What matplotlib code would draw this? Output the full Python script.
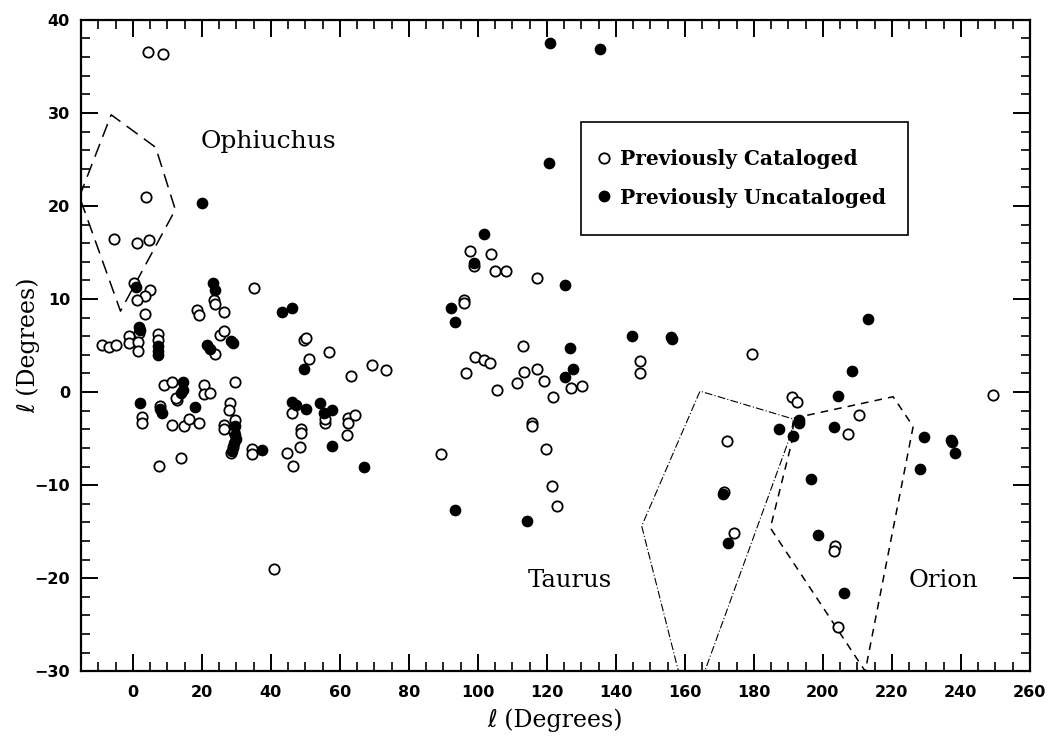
import matplotlib
matplotlib.use("Agg")
import matplotlib.pyplot as plt
from matplotlib.lines import Line2D
from matplotlib.patches import Rectangle
from matplotlib.ticker import MultipleLocator

# previously cataloged clouds (open circles): galactic longitude, latitude
cat_l = [4.3, 8.8, 3.7, -5.5, 1.2, 4.6,
         0.3, 5.1, 3.5, 1.3, 3.4,
         18.6, 19.3, 23.4, 23.9, 26.3,
         -9.1, -7.0, -4.8, -1.2, -1.0,
         1.7, 1.6, 1.5, 7.2, 7.2,
         23.7, 25.3, 26.5,
         35.0, 49.7, 50.1, 51.1, 56.8, 63.2, 69.2, 73.3,
         8.9, 11.4, 12.8, 12.5,
         20.5, 20.5, 22.4, 29.6,
         2.7, 2.7, 7.9,
         11.4, 14.9, 16.2, 19.3,
         7.5, 14.0,
         28.2, 28.0, 26.3, 26.3, 29.5, 29.3, 29.0, 28.4,
         34.5, 34.5,
         46.2, 55.7, 55.7, 48.7, 48.7, 48.4, 44.6, 46.5,
         62.4, 62.4, 64.5, 62.0,
         41.0,
         97.6, 103.7, 98.8, 105.1, 108.2, 117.1,
         96.1, 96.1, 113.0, 99.3, 101.7, 103.4, 96.6, 105.6, 111.4, 113.5,
         117.1, 119.3, 127.1, 130.3, 121.9, 115.7, 115.7, 89.2, 119.9, 121.5, 123.0,
         147.0, 146.9, 179.5,
         191.0, 192.5, 207.2, 210.5, 172.1, 171.5, 174.4, 203.6, 203.3, 204.4, 249.3]
cat_b = [36.6, 36.3, 21.0, 16.5, 16.0, 16.3,
         11.7, 11.0, 10.3, 9.9, 8.4,
         8.8, 8.3, 9.9, 9.5, 8.6,
         5.1, 4.8, 5.1, 6.0, 5.3,
         6.3, 5.4, 4.4, 6.2, 5.6,
         4.1, 6.1, 6.6,
         11.2, 5.6, 5.8, 3.6, 4.3, 1.7, 2.9, 2.4,
         0.8, 1.1, -0.9, -0.6,
         0.8, -0.2, -0.1, 1.1,
         -2.7, -3.3, -1.5,
         -3.5, -3.6, -2.9, -3.3,
         -7.9, -7.1,
         -1.2, -1.9, -3.5, -4.0, -3.0, -4.3, -5.9, -6.5,
         -6.1, -6.7,
         -2.2, -3.3, -2.9, -4.0, -4.4, -5.9, -6.6, -7.9,
         -2.8, -3.3, -2.5, -4.6,
         -19.0,
         15.2, 14.8, 13.6, 13.0, 13.0, 12.3,
         9.9, 9.6, 5.0, 3.8, 3.4, 3.1, 2.0, 0.2, 1.0, 2.2,
         2.5, 1.2, 0.4, 0.6, -0.5, -3.3, -3.6, -6.7, -6.1, -10.1, -12.2,
         3.3, 2.0, 4.1,
         -0.5, -1.1, -4.5, -2.5, -5.3, -10.7, -15.1, -16.5, -17.1, -25.3, -0.3]

# previously uncataloged clouds (filled circles)
new_l = [20.0, 0.8, 1.7, 2.2, 7.2, 7.2, 7.2,
         23.2, 23.7, 21.5, 22.4, 28.5, 29.0,
         43.2, 46.2, 49.7,
         14.4, 14.4, 13.8,
         2.0, 8.0, 8.3, 18.1,
         29.5, 29.6, 29.8, 29.4, 28.8,
         37.4,
         46.2, 47.3, 50.1, 54.2, 55.5, 57.8, 57.6, 67.1,
         120.8, 135.5, 120.5,
         101.7, 98.8, 125.2, 92.3, 93.5, 144.6, 156.2, 156.0, 126.6, 127.7, 125.2,
         93.4, 114.2,
         213.2, 208.6, 204.5, 193.0, 193.0, 187.4, 191.5, 203.3, 171.1, 196.5,
         172.4, 198.5, 206.2,
         229.4, 237.1, 237.6, 238.4, 228.1]
new_b = [20.3, 11.3, 7.0, 6.7, 5.0, 4.4, 4.0,
         11.7, 11.0, 5.1, 4.6, 5.5, 5.3,
         8.6, 9.0, 2.5,
         1.1, 0.2, -0.1,
         -1.2, -1.8, -2.2, -1.6,
         -3.6, -4.6, -5.0, -5.5, -6.3,
         -6.2,
         -1.1, -1.4, -1.8, -1.2, -2.2, -1.9, -5.8, -8.1,
         37.5, 36.9, 24.6,
         17.0, 13.9, 11.5, 9.0, 7.5, 6.0, 5.7, 5.9, 4.7, 2.5, 1.6,
         -12.7, -13.9,
         7.9, 2.3, -0.4, -3.0, -3.3, -4.0, -4.7, -3.8, -11.0, -9.3,
         -16.2, -15.4, -21.6,
         -4.8, -5.1, -5.4, -6.6, -8.3]

# cloud complex outlines
oph_l = [-15.5, -6.3, 6.6, 12.3, -3.6, -15.5]
oph_b = [21.0, 29.8, 26.3, 19.6, 8.7, 21.0]
tau_l = [158.5, 147.5, 164.4, 191.5, 190.8, 165.3]
tau_b = [-30.5, -14.4, 0.1, -2.9, -4.5, -30.5]
ori_l = [191.6, 220.4, 226.2, 212.3, 184.8, 191.0, 191.6]
ori_b = [-2.8, -0.5, -3.7, -30.0, -14.6, -5.4, -2.8]

serif = ["DejaVu Serif", "DejaVu Sans"]

fig = plt.figure(figsize=(10.54, 7.36), dpi=100)
ax = fig.add_axes([0.077, 0.088, 0.900, 0.885])

ax.plot(oph_l, oph_b, color="black", lw=1.1, ls=(0, (9, 5)))
ax.plot(tau_l, tau_b, color="black", lw=0.8, ls=(0, (7, 2, 1, 2)))
ax.plot(ori_l, ori_b, color="black", lw=1.1, ls=(0, (5, 4)))

ax.scatter(cat_l, cat_b, s=55, facecolors="white", edgecolors="black",
           linewidths=1.3, zorder=3)
ax.scatter(new_l, new_b, s=55, color="black", zorder=4)

ax.set_xlim(-15, 260)
ax.set_ylim(-30, 40)

ax.text(19.6, 26.9, "Ophiuchus", fontsize=18, family=serif, va="center")
ax.text(114.5, -20.3, "Taurus", fontsize=17.5, family=serif, va="center")
ax.text(225.0, -20.3, "Orion", fontsize=17.5, family=serif, va="center")

# legend box drawn separately so its size matches the original
ax.add_patch(Rectangle((0.527, 0.670), 0.345, 0.173, transform=ax.transAxes,
                       facecolor="white", edgecolor="black", lw=1.2, zorder=5))
handles = [Line2D([], [], ls="none", marker="o", ms=7.5, mfc="white",
                  mec="black", mew=1.3),
           Line2D([], [], ls="none", marker="o", ms=7.5, color="black")]
leg = ax.legend(handles, ["Previously Cataloged", "Previously Uncataloged"],
                loc="center left", bbox_to_anchor=(0.5405, 0.7565),
                borderaxespad=0, borderpad=0, frameon=False,
                handletextpad=0.3, handlelength=1.0, labelspacing=0.9,
                prop={"family": serif, "weight": "bold", "size": 14.5})
leg.set_zorder(6)

ax.xaxis.set_major_locator(MultipleLocator(20))
ax.xaxis.set_minor_locator(MultipleLocator(5))
ax.yaxis.set_major_locator(MultipleLocator(10))
ax.yaxis.set_minor_locator(MultipleLocator(2))
ax.tick_params(which="both", direction="in", top=True, right=True)
ax.tick_params(which="major", length=12, width=1.4, labelsize=11.5)
ax.tick_params(axis="x", which="major", pad=10)
ax.tick_params(axis="y", which="major", pad=8)
ax.tick_params(which="minor", length=6.5, width=1.2)
for lab in ax.get_xticklabels() + ax.get_yticklabels():
    lab.set_fontweight("bold")
    lab.set_family(["Liberation Sans Narrow", "DejaVu Sans"])
for sp in ax.spines.values():
    sp.set_linewidth(1.6)

ax.set_xlabel("ℓ (Degrees)", fontsize=17, family=serif, labelpad=6)
ax.set_ylabel("ℓ (Degrees)", fontsize=17, family=serif)
ax.yaxis.set_label_coords(-0.043, 0.5)

fig.savefig("out.png", dpi=100)
